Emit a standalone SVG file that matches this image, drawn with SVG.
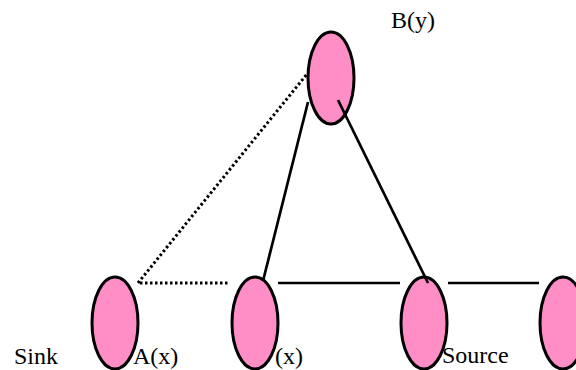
<svg xmlns="http://www.w3.org/2000/svg" width="576" height="370" viewBox="0 0 576 370">
<style>
.node{fill:#FF8EC6;stroke:#000;stroke-width:3}
.edge{stroke:#000;stroke-width:2.7;fill:none}
.dot{stroke:#000;stroke-width:3;stroke-dasharray:2.5 2.5;fill:none}
</style>
<rect width="576" height="370" fill="#fff"/>
<g id="nodeB"><ellipse class="node" cx="331" cy="78" rx="23" ry="46"/></g>
<g id="nodeA"><ellipse class="node" cx="115" cy="323" rx="23" ry="46"/></g>
<g id="nodeX"><ellipse class="node" cx="255" cy="323" rx="23" ry="46"/></g>
<g id="nodeSource"><ellipse class="node" cx="424" cy="323" rx="23" ry="46"/></g>
<g id="nodeRight"><ellipse class="node" cx="563" cy="323" rx="23" ry="46"/></g>
<g id="connectors">
<line class="dot" x1="138" y1="283" x2="307" y2="74"/>
<line class="dot" x1="140" y1="283" x2="230" y2="283"/>
<line class="edge" x1="263" y1="281" x2="308" y2="102"/>
<line class="edge" x1="338" y1="100" x2="428" y2="283"/>
<line class="edge" x1="278" y1="283" x2="400" y2="283"/>
<line class="edge" x1="448" y1="283" x2="539" y2="283"/>
</g>
<g id="labels" font-family="Liberation Serif, Times New Roman, serif" font-size="24" fill="#000">
<text x="391" y="28">B(y)</text>
<text x="14" y="364">Sink</text>
<text x="133" y="364">A(x)</text>
<text x="275" y="364">(x)</text>
<text x="442" y="363">Source</text>
</g>
</svg>
